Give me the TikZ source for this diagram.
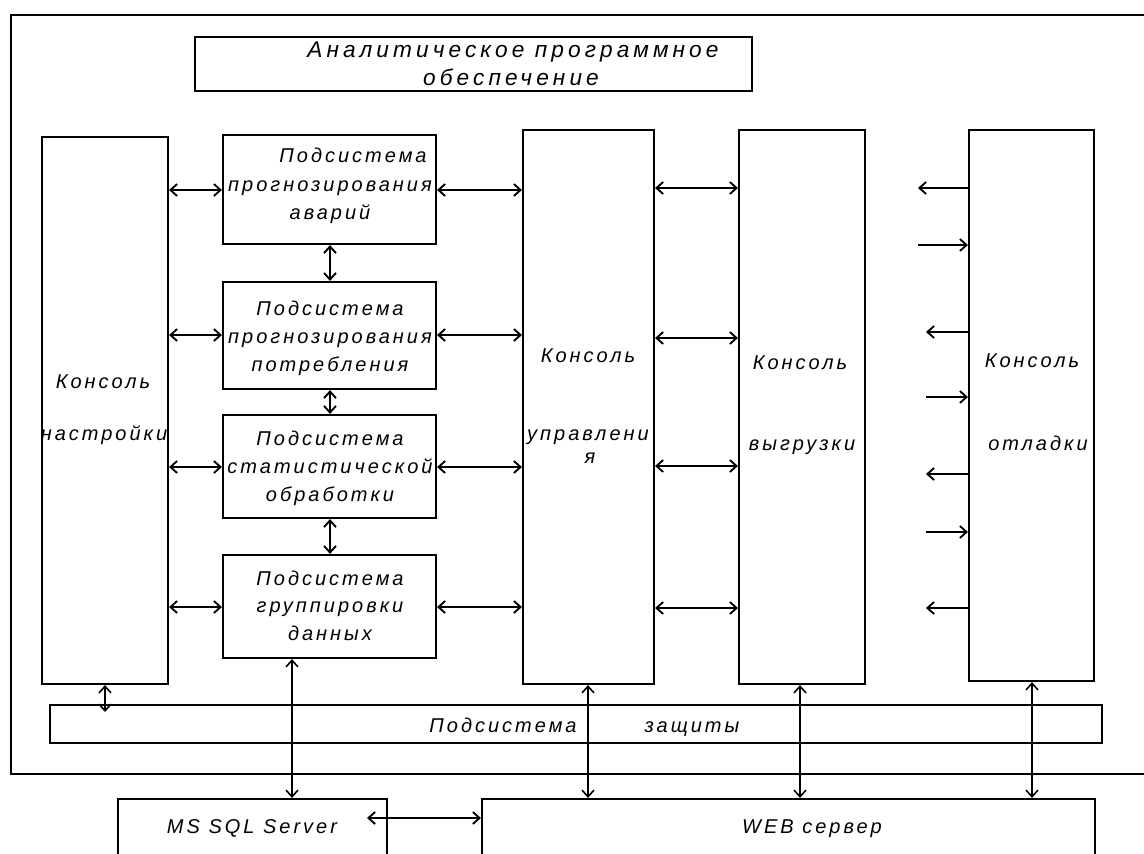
\documentclass[tikz,border=0pt]{standalone}
\usepackage{fontspec}
\newfontfamily\dfont[LetterSpace=15]{Liberation Sans}
\newfontfamily\tfont[LetterSpace=18]{Liberation Sans}
\usetikzlibrary{arrows.meta,fit}
\begin{document}
\begin{tikzpicture}[x=0.75pt,y=-0.75pt,
  box/.style={draw, line width=1.6pt, inner sep=0pt},
  txt/.style={font=\dfont\itshape\fontsize{15}{21}\selectfont, inner sep=0pt, anchor=mid, yshift=-2.2pt},
  ttl/.style={font=\tfont\itshape\fontsize{17}{21}\selectfont, inner sep=0pt, anchor=mid, yshift=-3.5pt},
  dar/.style={{Straight Barb[length=5pt,width=9pt]}-{Straight Barb[length=5pt,width=9pt]}, line width=1.4pt},
  sar/.style={-{Straight Barb[length=5pt,width=9pt]}, line width=1.4pt},
  vdar/.style={dar, line width=1.2pt}]
\clip (0,0) rectangle (1144,853);
\fill[white] (0,0) rectangle (1144,853);
% outer frame
\node[box] (frame) [fit={(11,15) (1170,774)}] {};
% title
\node[box] (title) [fit={(195,37) (752,91)}] {};
\node[ttl] (title1) at (513,50) {Аналитическое программное};
\node[ttl] (title2) at (511,78) {обеспечение};
% consoles
\node[box] (kn) [fit={(42,137) (168,684)}] {};
\node[txt] (kn1) at (103,383) {Консоль};
\node[txt] (kn2) at (104,435) {настройки};
\node[box] (ku) [fit={(523,130) (654,684)}] {};
\node[txt] (ku1) at (588,357) {Консоль};
\node[txt] (ku2) at (588,435) {управлени};
\node[txt] (ku3) at (590,458) {я};
\node[box] (kv) [fit={(739,130) (865,684)}] {};
\node[txt] (kv1) at (800,364) {Консоль};
\node[txt] (kv2) at (802,445) {выгрузки};
\node[box] (kd) [fit={(969,130) (1094,681)}] {};
\node[txt] (kd1) at (1032,362) {Консоль};
\node[txt] (kd2) at (1038,445) {отладки};
% subsystems
\node[box] (s1) [fit={(223,135) (436,244)}] {};
\node[txt] (s1a) at (353,157) {Подсистема};
\node[txt] (s1b) at (330,186) {прогнозирования};
\node[txt] (s1c) at (330,214) {аварий};
\node[box] (s2) [fit={(223,282) (436,389)}] {};
\node[txt] (s2a) at (330,310) {Подсистема};
\node[txt] (s2b) at (330,338) {прогнозирования};
\node[txt] (s2c) at (330,366) {потребления};
\node[box] (s3) [fit={(223,415) (436,518)}] {};
\node[txt] (s3a) at (330,440) {Подсистема};
\node[txt] (s3b) at (330,468) {статистической};
\node[txt] (s3c) at (330,496) {обработки};
\node[box] (s4) [fit={(223,555) (436,658)}] {};
\node[txt] (s4a) at (330,580) {Подсистема};
\node[txt] (s4b) at (330,607) {группировки};
\node[txt] (s4c) at (330,635) {данных};
% protection
\node[box] (zs) [fit={(50,705) (1102,743)}] {};
\node[txt] (zs1) at (503,727) {Подсистема};
\node[txt] (zs2) at (692,727) {защиты};
% bottom
\node[box] (sql) [fit={(118,799) (387,880)}] {};
\node[txt] (sqlt) at (252,828) {MS SQL Server};
\node[box] (web) [fit={(482,799) (1095,880)}] {};
\node[txt] (webt) at (812,828) {WEB сервер};
% arrows left column
\foreach \s/\y in {s1/190,s2/335,s3/467,s4/607}{
  \draw[dar] (kn.east |- 0,\y) -- (\s.west |- 0,\y);
  \draw[dar] (\s.east |- 0,\y) -- (ku.west |- 0,\y);
}
\draw[dar] (s1.south -| 330,0) -- (s2.north -| 330,0);
\draw[dar] (s2.south -| 330,0) -- (s3.north -| 330,0);
\draw[dar] (s3.south -| 330,0) -- (s4.north -| 330,0);
\foreach \y in {188,338,466,608}{
  \draw[dar] (ku.east |- 0,\y) -- (kv.west |- 0,\y);
}
% debug console arrows
\coordinate (d1) at (918,188);
\coordinate (d2) at (918,245);
\coordinate (d3) at (926,332);
\coordinate (d4) at (926,397);
\coordinate (d5) at (926,474);
\coordinate (d6) at (926,532);
\coordinate (d7) at (926,608);
\draw[sar] (kd.west |- d1) -- (d1);
\draw[sar] (d2) -- (kd.west |- d2);
\draw[sar] (kd.west |- d3) -- (d3);
\draw[sar] (d4) -- (kd.west |- d4);
\draw[sar] (kd.west |- d5) -- (d5);
\draw[sar] (d6) -- (kd.west |- d6);
\draw[sar] (kd.west |- d7) -- (d7);
% vertical bottom arrows
\coordinate (zk) at (105,712);
\draw[vdar] (kn.south -| zk) -- (zk);
\draw[vdar] (s4.south -| 292,0) -- (sql.north -| 292,0);
\draw[vdar] (ku.south -| 588,0) -- (web.north -| 588,0);
\draw[vdar] (kv.south -| 800,0) -- (web.north -| 800,0);
\draw[vdar] (kd.south -| 1032,0) -- (web.north -| 1032,0);
\coordinate (sq) at (367,818);
\draw[dar] (sq) -- (web.west |- sq);
\end{tikzpicture}
\end{document}
